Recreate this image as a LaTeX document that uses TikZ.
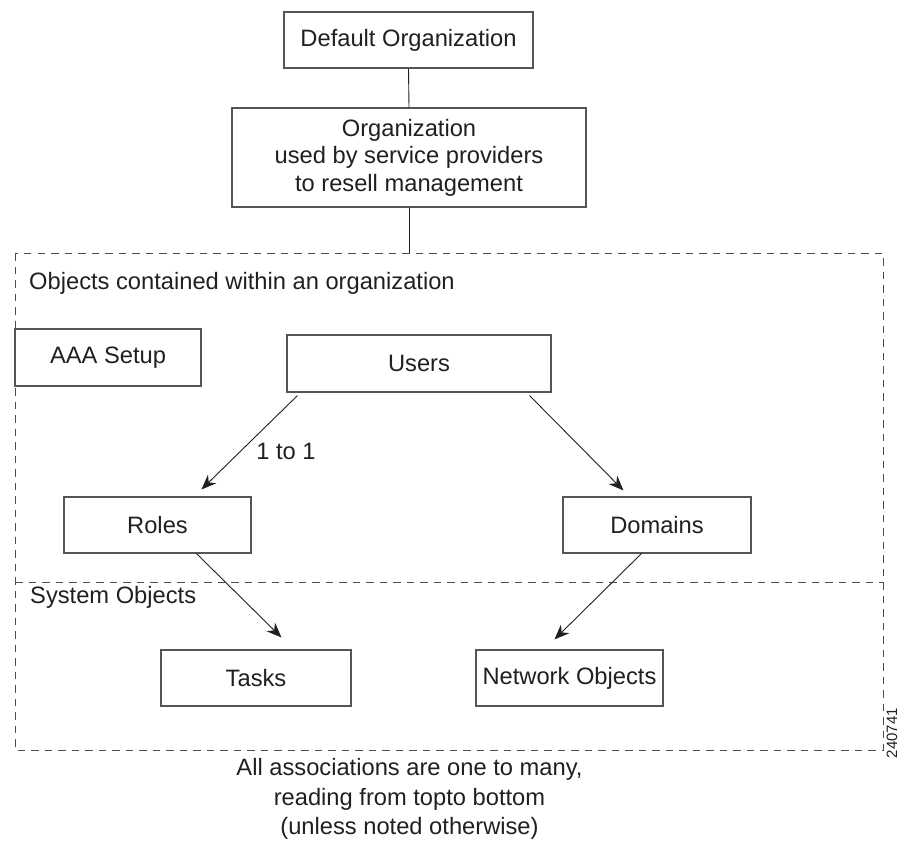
\documentclass[tikz,border=0pt]{standalone}
\usepackage{fontspec}
\setmainfont{Liberation Sans}
\usetikzlibrary{arrows.meta,calc}
\definecolor{txt}{HTML}{231F20}
\definecolor{edge}{HTML}{555555}
\begin{document}
\begin{tikzpicture}[x=1pt,y=-1pt,
  every node/.style={text=txt,font=\fontsize{23.7}{27.5}\selectfont},
  box/.style={draw=edge,line width=1.1pt,fill=white,inner sep=0pt,align=center},
  conn/.style={draw=txt,line width=0.9pt},
  arr/.style={conn,-{Stealth[length=15pt,width=12pt]}},
  frame/.style={draw=txt!80,line width=1pt,dash pattern=on 7.5pt off 6pt},
  lbl/.style={anchor=west,inner sep=0pt}]
\useasboundingbox (0,0) rectangle (899,841);
% frame
\draw[frame] (15,253) rectangle (883,750);
\draw[frame] (15,582) -- (883,582);
\coordinate (ftop) at (409,253);
% nodes
\node[box,minimum width=249pt,minimum height=56pt] (def) at (408.5,40) {Default Organization};
\node[box,minimum width=354pt,minimum height=99pt] (org) at (409,157.5) {Organization\\used by service providers\\to resell management};
\node[box,minimum width=186pt,minimum height=57pt] (aaa) at (108,357.5) {AAA Setup};
\node[box,minimum width=264pt,minimum height=57pt] (users) at (419,363.5) {Users};
\node[box,minimum width=187pt,minimum height=56pt] (roles) at (157.5,525) {Roles};
\node[box,minimum width=188pt,minimum height=56pt] (domains) at (657,525) {Domains};
\node[box,minimum width=190pt,minimum height=56pt] (tasks) at (256,678) {Tasks};
\node[box,minimum width=187pt,minimum height=56pt] (netobj) at (569.5,678) {Network Objects};
% labels
\node[lbl] (lobj) at (29,283) {Objects contained within an organization};
\node[lbl] (lsys) at (30,597) {System Objects};
\node[inner sep=0pt] (l11) at (286,451) {1 to 1};
\node[inner sep=0pt,align=center,font=\fontsize{23.7}{29.5}\selectfont] (note) at (409.5,799) {All associations are one to many,\\reading from topto bottom\\(unless noted otherwise)};
\node[inner sep=0pt,rotate=90,font=\fontsize{15}{15}\selectfont] (num) at (892,733) {240741};
% connectors
\draw[conn] (def.south) -- (org.north);
\draw[conn] (org.south) -- (ftop);
\draw[arr] ([xshift=11pt,yshift=-3pt]users.south west) -- ([xshift=138pt,yshift=7pt]roles.north west);
\draw[arr] ([xshift=-22pt,yshift=-3pt]users.south east) -- ([xshift=61pt,yshift=6pt]domains.north west);
\draw[arr] ([xshift=133pt]roles.south west) -- ([xshift=121pt,yshift=12pt]tasks.north west);
\draw[arr] ([xshift=79pt]domains.south west) -- ([xshift=79pt,yshift=10pt]netobj.north west);
\end{tikzpicture}
\end{document}
